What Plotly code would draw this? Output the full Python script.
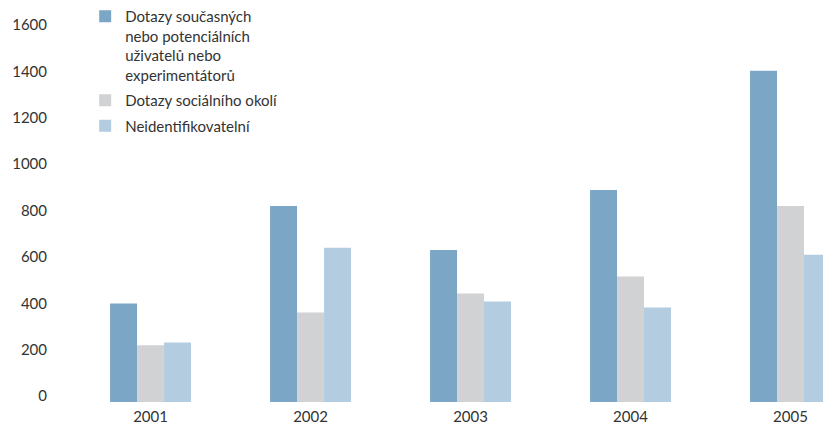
import plotly.graph_objects as go

years = [2001, 2002, 2003, 2004, 2005]
year_labels = ["2001", "2002", "2003", "2004", "2005"]

users = [425, 845, 656, 914, 1429]
social = [245, 386, 468, 541, 845]
unidentified = [257, 665, 433, 408, 635]

series_names = [
    "Dotazy současných<br>nebo potenciálních<br>uživatelů nebo<br>experimentátorů",
    "Dotazy sociálního okolí",
    "Neidentifikovatelní",
]
series_groups = ["users", "social", "unknown"]
series_colors = ["#7ba6c6", "#d1d2d4", "#b4cce0"]

y_ticks = [0, 200, 400, 600, 800, 1000, 1200, 1400, 1600]

FONT = "Lato, 'Noto Sans', sans-serif"

fig = go.Figure()
for name, grp, vals, col in zip(series_names, series_groups,
                                [users, social, unidentified], series_colors):
    fig.add_trace(go.Bar(x=years, y=vals, name=name, legendgroup=grp,
                         marker=dict(color=col, line=dict(width=0))))

fig.update_layout(
    width=823,
    height=424,
    margin=dict(l=60, r=0, t=29, b=22),
    paper_bgcolor="white",
    plot_bgcolor="white",
    barmode="group",
    bargap=0.494,
    bargroupgap=0,
    font=dict(family=FONT, size=15, color="#333333"),
    showlegend=True,
    legend=dict(
        x=0.033,
        y=1.085,
        xanchor="left",
        yanchor="top",
        xref="paper",
        yref="paper",
        bgcolor="rgba(0,0,0,0)",
        font=dict(family=FONT, size=15, color="#333333"),
        itemwidth=30,
        tracegroupgap=3,
        valign="top",
        traceorder="grouped",
    ),
)

fig.update_xaxes(
    range=[2000.434, 2005.203],
    tickmode="array",
    tickvals=years,
    ticktext=year_labels,
    showgrid=False,
    zeroline=False,
    showline=False,
    ticks="",
    ticklabelstandoff=4,
    tickfont=dict(family=FONT, size=15, color="#333333"),
)

fig.update_yaxes(
    range=[0, 1600],
    tickmode="array",
    tickvals=y_ticks,
    ticktext=[str(v) for v in y_ticks],
    showgrid=False,
    zeroline=False,
    showline=False,
    ticks="",
    ticklabelstandoff=12,
    ticklabelshift=-6,
    tickfont=dict(family=FONT, size=15, color="#333333"),
)

fig.write_html("out.html")
